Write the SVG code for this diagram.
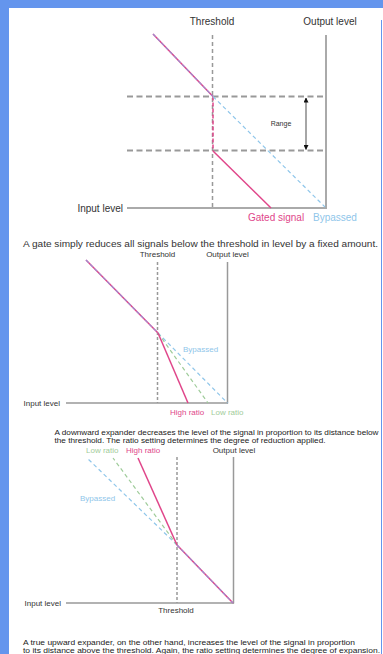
<svg xmlns="http://www.w3.org/2000/svg" width="383" height="654" viewBox="0 0 383 654">
<defs>
<marker id="ah" viewBox="0 0 10 10" refX="9" refY="5" markerWidth="5" markerHeight="5" orient="auto-start-reverse" markerUnits="userSpaceOnUse">
<path d="M0,0 L10,5 L0,10 z" fill="#111"/>
</marker>
<style>
text{font-family:"Liberation Sans",Arial,sans-serif;fill:#333}
.l10{font-size:10px}
.l8{font-size:8px}
.cap{font-size:7.5px;fill:#222}
.axis{stroke:#aaa;stroke-width:2;fill:none}
.axis2{stroke:#999;stroke-width:1.5;fill:none}
.hd{stroke:#999;stroke-width:2;stroke-dasharray:6 3.5;fill:none}
.vd{stroke:#999;stroke-width:1.5;stroke-dasharray:4 3;fill:none}
.vd2{stroke:#999;stroke-width:1.5;stroke-dasharray:3 2;fill:none}
.pink{stroke:#e0468a;stroke-width:1.5;fill:none}
.pinkd{stroke:#e0468a;stroke-width:1.5;stroke-dasharray:4 2;fill:none}
.blue{stroke:#8fc6ea;stroke-width:1.2;stroke-dasharray:4 3;fill:none}
.blueo{stroke:#8f9ae0;stroke-width:1.2;stroke-dasharray:4 2;fill:none;opacity:0.8}
.green{stroke:#9fcc9a;stroke-width:1.2;stroke-dasharray:4 3;fill:none}
.tp{fill:#e0468a}
.tb{fill:#8fc6ea}
.tg{fill:#9fcc9a}
</style>
</defs>
<rect x="0" y="0" width="383" height="654" fill="#ffffff"/>
<g id="frame" fill="#6495ed">
<rect x="0" y="0" width="383" height="8"/>
<rect x="0" y="0" width="9" height="654"/>
<rect x="381" y="20" width="1" height="634"/>
</g>

<g id="panel1">
<g id="p1-axes">
<line class="hd" x1="127" y1="96.5" x2="326" y2="96.5"/>
<line class="hd" x1="127" y1="150.5" x2="326" y2="150.5"/>
<line class="vd" x1="212.5" y1="35" x2="212.5" y2="208"/>
<line class="axis" x1="326" y1="35" x2="326" y2="209"/>
<line class="axis" x1="127" y1="208" x2="327" y2="208"/>
</g>
<g id="p1-lines">
<line class="pink" x1="153" y1="34" x2="213" y2="96.5"/>
<line class="blueo" x1="153" y1="34" x2="213" y2="96.5"/>
<line class="pinkd" x1="213" y1="96.5" x2="213" y2="151"/>
<line class="pink" x1="213" y1="151" x2="271" y2="208"/>
<line class="blue" x1="213" y1="96.5" x2="325" y2="207"/>
<line x1="306" y1="98" x2="306" y2="149.5" stroke="#888" stroke-width="1.5" marker-start="url(#ah)" marker-end="url(#ah)"/>
</g>
<g id="p1-labels">
<text class="l10" x="212" y="25" text-anchor="middle">Threshold</text>
<text class="l10" x="330" y="25" text-anchor="middle">Output level</text>
<text x="281" y="126" text-anchor="middle" font-size="7">Range</text>
<text class="l10" x="123" y="212" text-anchor="end">Input level</text>
<text class="l10 tp" x="248" y="221">Gated signal</text>
<text class="l10 tb" x="313" y="221">Bypassed</text>
<text x="23" y="247" font-size="9" fill="#222" textLength="355" lengthAdjust="spacingAndGlyphs">A gate simply reduces all signals below the threshold in level by a fixed amount.</text>
</g>
</g>

<g id="panel2">
<g id="p2-axes">
<line class="vd2" x1="157.5" y1="262" x2="157.5" y2="403"/>
<line class="axis2" x1="227.5" y1="262" x2="227.5" y2="403.5"/>
<line class="axis2" x1="66" y1="403" x2="228" y2="403"/>
</g>
<g id="p2-lines">
<line class="pink" x1="86" y1="260" x2="158" y2="333"/>
<line class="blueo" x1="86" y1="260" x2="158" y2="333"/>
<line class="blue" x1="158" y1="333" x2="227.5" y2="403"/>
<line class="green" x1="158" y1="333" x2="208" y2="403"/>
<line class="pink" x1="158" y1="333" x2="188" y2="403"/>
</g>
<g id="p2-labels">
<text class="l8" x="157.5" y="257" text-anchor="middle">Threshold</text>
<text class="l8" x="227.5" y="257" text-anchor="middle">Output level</text>
<text class="l8 tb" x="183" y="352">Bypassed</text>
<text class="l8" x="60" y="406" text-anchor="end">Input level</text>
<text class="l8 tp" x="170" y="415">High ratio</text>
<text class="l8 tg" x="211" y="415">Low ratio</text>
<text class="cap" x="54.5" y="435" textLength="324" lengthAdjust="spacingAndGlyphs">A downward expander decreases the level of the signal in proportion to its distance below</text>
<text class="cap" x="54.5" y="443" textLength="271" lengthAdjust="spacingAndGlyphs">the threshold. The ratio setting determines the degree of reduction applied.</text>
</g>
</g>

<g id="panel3">
<g id="p3-axes">
<line class="vd2" x1="177" y1="457" x2="177" y2="603"/>
<line class="axis2" x1="233.5" y1="457" x2="233.5" y2="603.5"/>
<line class="axis2" x1="66" y1="603" x2="234" y2="603"/>
</g>
<g id="p3-lines">
<line class="blue" x1="177" y1="545" x2="87" y2="458"/>
<line class="green" x1="177" y1="545" x2="113" y2="458"/>
<line class="pink" x1="177" y1="545" x2="138" y2="458"/>
<line class="pink" x1="177" y1="545" x2="233" y2="603"/>
<line class="blueo" x1="177" y1="545" x2="233" y2="603"/>
</g>
<g id="p3-labels">
<text class="l8 tg" x="86" y="453">Low ratio</text>
<text class="l8 tp" x="126" y="453">High ratio</text>
<text class="l8" x="234" y="453" text-anchor="middle">Output level</text>
<text class="l8 tb" x="80" y="501">Bypassed</text>
<text class="l8" x="61" y="606" text-anchor="end">Input level</text>
<text class="l8" x="176" y="613" text-anchor="middle">Threshold</text>
<text class="cap" x="23" y="645" textLength="332" lengthAdjust="spacingAndGlyphs">A true upward expander, on the other hand, increases the level of the signal in proportion</text>
<text class="cap" x="23" y="653" textLength="357" lengthAdjust="spacingAndGlyphs">to its distance above the threshold. Again, the ratio setting determines the degree of expansion.</text>
</g>
</g>
</svg>
